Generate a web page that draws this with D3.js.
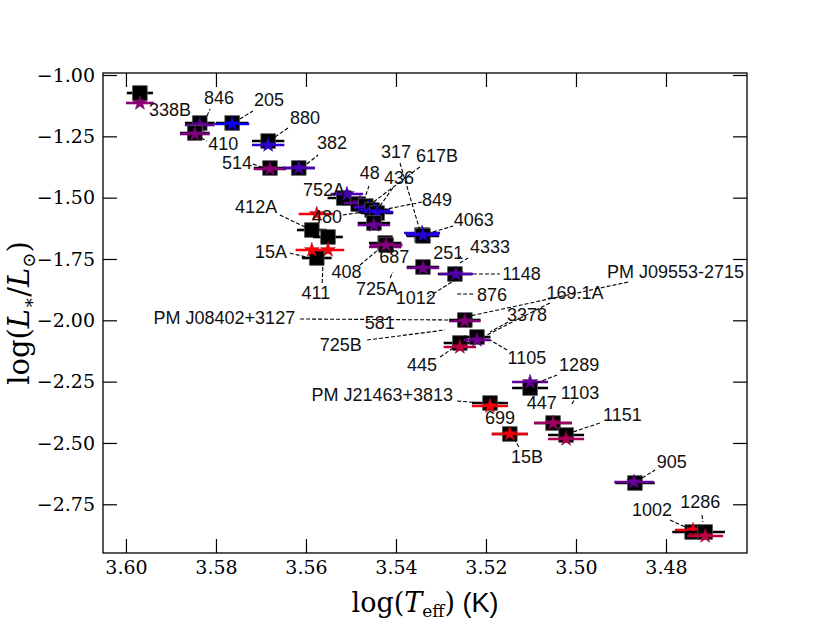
<!DOCTYPE html>
<html><head><meta charset="utf-8">
<script src="https://cdn.jsdelivr.net/npm/d3@7"></script>
<style>body{margin:0;background:#fff}</style>
</head><body>
<svg id="chart" width="830" height="623"></svg>
<script>
// ---------------- data ----------------
const starNames = ["338B","846","410","205","880","514","382","752A","48","617B","436","849","480","412A","411","15A","408","687","4063","317","251","1148","581","445","3378","1289","447","1151","PM J21463+3813","15B","905","1002","1286"];
// model A (black squares)
const sqTeff = [3.5969,3.5836,3.5847,3.5764,3.5684,3.5680,3.5616,3.5516,3.5484,3.5467,3.5453,3.5442,3.5449,3.5587,3.5551,3.5576,3.5424,3.5422,3.5342,3.5340,3.5340,3.5269,3.5247,3.5258,3.5220,3.5102,3.5051,3.5022,3.5191,3.5147,3.4869,3.4742,3.4713];
const sqLum  = [-1.0734,-1.1957,-1.2364,-1.1957,-1.2691,-1.3791,-1.3791,-1.5014,-1.5259,-1.5340,-1.5503,-1.5626,-1.6033,-1.6319,-1.6604,-1.7460,-1.6849,-1.6930,-1.6523,-1.6560,-1.7827,-1.8112,-1.9988,-2.0925,-2.0681,-2.2760,-2.4187,-2.4676,-2.3371,-2.4635,-2.6633,-2.8630,-2.8630];
const sqErr  = [0.0029,0.0033,0.0033,0.0036,0.0036,0.0036,0.0036,0.0036,0.0036,0.0033,0.0036,0.0036,0.0036,0.0033,0.0033,0.0033,0.0036,0.0036,0.0036,0.0036,0.0036,0.0038,0.0035,0.0036,0.0030,0.0040,0.0042,0.0040,0.0040,0.0040,0.0044,0.0044,0.0044];
// model B (coloured stars)
const stTeff = [3.5969,3.5836,3.5847,3.5764,3.5684,3.5680,3.5616,3.5509,3.5480,3.5462,3.5449,3.5442,3.5449,3.5576,3.5551,3.5587,3.5424,3.5422,3.5342,3.5340,3.5340,3.5267,3.5247,3.5258,3.5220,3.5102,3.5051,3.5022,3.5191,3.5147,3.4871,3.4740,3.4713];
const stLum  = [-1.1141,-1.2038,-1.2405,-1.1998,-1.2854,-1.3832,-1.3791,-1.4851,-1.5218,-1.5381,-1.5503,-1.5585,-1.6115,-1.5667,-1.7134,-1.7134,-1.7012,-1.6930,-1.6441,-1.6523,-1.7868,-1.8112,-2.0029,-2.1088,-2.0803,-2.2515,-2.4187,-2.4839,-2.3494,-2.4635,-2.6592,-2.8549,-2.8793];
const stErr  = [0.0031,0.0033,0.0033,0.0038,0.0036,0.0036,0.0036,0.0036,0.0036,0.0033,0.0036,0.0036,0.0036,0.0040,0.0036,0.0036,0.0036,0.0036,0.0040,0.0036,0.0036,0.0038,0.0035,0.0036,0.0030,0.0040,0.0042,0.0040,0.0040,0.0040,0.0044,0.0040,0.0040];
const starMetric = [0.45,0.60,0.50,0.95,0.82,0.46,0.70,0.72,0.60,0.75,0.86,0.85,0.58,0.04,0.05,0.03,0.50,0.48,0.88,0.86,0.55,0.68,0.48,0.25,0.55,0.60,0.38,0.33,0.05,0.05,0.60,0.08,0.25];

// annotations (text position and leader in data units)
const labelText  = ["338B","846","410","205","880","514","382","752A","48","436","617B","317","849","480","412A","15A","411","408","687","725A","251","4333","1148","876","1012","4063","PM J08402+3127","581","PM J09553-2715","169.1A","3378","445","725B","1105","1289","447","1103","1151","PM J21463+3813","699","15B","905","1002","1286"];
const labelTeff  = [3.5949,3.5793,3.5784,3.5682,3.5602,3.5753,3.5542,3.5560,3.5458,3.5393,3.5309,3.5400,3.5309,3.5553,3.5664,3.5642,3.5578,3.5510,3.5404,3.5442,3.5284,3.5191,3.5164,3.5220,3.5356,3.5227,3.5624,3.5436,3.4931,3.5002,3.5109,3.5342,3.5476,3.5109,3.4993,3.5076,3.4991,3.4940,3.5273,3.5169,3.5109,3.4787,3.4831,3.4724];
const labelLum   = [-1.1427,-1.0938,-1.2813,-1.1019,-1.1753,-1.3587,-1.2772,-1.4688,-1.3995,-1.4199,-1.3302,-1.3139,-1.5096,-1.5789,-1.5381,-1.7216,-1.8887,-1.8031,-1.7419,-1.8724,-1.7256,-1.7012,-1.8112,-1.8969,-1.9091,-1.5911,-1.9906,-2.0110,-1.8031,-1.8887,-1.9784,-2.1822,-2.1007,-2.1537,-2.1822,-2.3371,-2.2964,-2.3860,-2.3045,-2.3983,-2.5573,-2.5776,-2.7733,-2.7407];
const labelAlign = ["start","middle","middle","middle","middle","middle","middle","middle","middle","middle","middle","middle","middle","middle","end","end","middle","middle","middle","middle","middle","middle","start","start","middle","middle","end","middle","start","middle","middle","middle","end","middle","middle","middle","middle","start","end","middle","middle","middle","middle","middle"];
const leadTeff1 = [null,3.5820,3.5833,3.5747,3.5669,3.5718,3.5598,null,3.5467,3.5407,3.5347,3.5391,3.5342,3.5518,3.5658,3.5636,3.5564,3.5480,null,3.5413,3.5262,3.5258,3.5229,3.5264,3.5329,3.5318,3.5613,null,3.4884,3.5058,3.5151,3.5302,3.5464,3.5153,3.5087,null,3.5009,3.4947,3.5264,null,3.5127,3.4853,3.4791,3.4720];
const leadLum1  = [null,-1.1671,-1.2568,-1.1794,-1.2528,-1.3628,-1.3628,null,-1.4892,-1.4607,-1.3750,-1.3587,-1.5177,-1.5707,-1.5707,-1.7256,-1.8479,-1.7746,null,-1.8276,-1.7501,-1.7664,-1.8112,-1.8928,-1.9050,-1.6400,-1.9947,null,-1.8439,-1.9295,-2.0069,-2.1496,-2.0803,-2.1211,-2.2556,null,-2.3412,-2.4187,-2.3290,null,-2.5165,-2.6429,-2.8141,-2.7937];
const leadTeff2 = [null,3.5813,3.5820,3.5718,3.5640,3.5698,3.5573,null,3.5460,3.5442,3.5453,3.5347,3.5431,3.5458,3.5602,3.5591,3.5562,3.5440,null,3.5407,3.5253,3.5240,3.5169,3.5224,3.5269,3.5273,3.5262,null,3.5236,3.5198,3.5191,3.5273,3.5291,3.5191,3.5042,null,3.5004,3.5007,3.5209,null,3.5136,3.4824,3.4753,3.4718];
const leadLum2  = [null,-1.1386,-1.2691,-1.1468,-1.2161,-1.3750,-1.3261,null,-1.4525,-1.5503,-1.5218,-1.6319,-1.5503,-1.5544,-1.6196,-1.7460,-1.7623,-1.7134,null,-1.8031,-1.7338,-1.7460,-1.8112,-1.8928,-1.8357,-1.6156,-1.9988,null,-1.9825,-2.0599,-2.0477,-2.1129,-2.0395,-2.0803,-2.2230,null,-2.3249,-2.4554,-2.3371,null,-2.4880,-2.6103,-2.8467,-2.8222];

const xTicks = [3.60,3.58,3.56,3.54,3.52,3.50,3.48];
const yTicks = [-1.00,-1.25,-1.50,-1.75,-2.00,-2.25,-2.50,-2.75];

// ---------------- drawing ----------------
const svg = d3.select("#chart");
const L = 103, R = 747, T = 73, B = 553;
const x = d3.scaleLinear().domain([3.6051, 3.4620]).range([L, R]);
const y = d3.scaleLinear().domain([-0.9918, -2.9486]).range([T, B]);
const col = d3.scaleLinear().domain([0, 1]).range(["#ff0000", "#0000ff"]).interpolate(d3.interpolateRgb);

const serif = "'DejaVu Serif', serif";
const sans = "'Liberation Sans', Arial, sans-serif";

svg.append("defs").append("clipPath").attr("id","clip")
  .append("rect").attr("x",L).attr("y",T).attr("width",R-L).attr("height",B-T);

const plot = svg.append("g").attr("clip-path","url(#clip)");
const idx = d3.range(starNames.length);

const starSym = d3.symbol().type(d3.symbolStar).size(66);
const sqSym = d3.symbol().type(d3.symbolSquare).size(215);

idx.forEach(i => {
  const g = plot.append("g");
  g.append("line")
    .attr("x1", x(sqTeff[i] + sqErr[i])).attr("x2", x(sqTeff[i] - sqErr[i]))
    .attr("y1", y(sqLum[i])).attr("y2", y(sqLum[i]))
    .attr("stroke", "#000").attr("stroke-width", 2.6);
  g.append("path").attr("d", sqSym())
    .attr("transform", `translate(${x(sqTeff[i])},${y(sqLum[i])})`)
    .attr("fill", "#000").attr("stroke", "#555").attr("stroke-width", 0.8);
  const c = col(starMetric[i]);
  g.append("line")
    .attr("x1", x(stTeff[i] + stErr[i])).attr("x2", x(stTeff[i] - stErr[i]))
    .attr("y1", y(stLum[i])).attr("y2", y(stLum[i]))
    .attr("stroke", c).attr("stroke-width", 2.6);
  g.append("path").attr("d", starSym())
    .attr("transform", `translate(${x(stTeff[i])},${y(stLum[i])})`)
    .attr("fill", c).attr("stroke", d3.color(c).darker(0.6)).attr("stroke-width", 0.6);
});

// leaders and labels
const ann = svg.append("g");
d3.range(labelText.length).forEach(i => {
  if (leadTeff1[i] !== null) {
    ann.append("line")
      .attr("x1", x(leadTeff1[i])).attr("y1", y(leadLum1[i]))
      .attr("x2", x(leadTeff2[i])).attr("y2", y(leadLum2[i]))
      .attr("stroke", "#000").attr("stroke-width", 1.1)
      .attr("stroke-dasharray", "4,2");
  }
  ann.append("text")
    .attr("x", x(labelTeff[i])).attr("y", y(labelLum[i]))
    .attr("text-anchor", labelAlign[i])
    .attr("dominant-baseline", "central")
    .style("font-family", sans).style("font-size", "18px").attr("fill", "#111")
    .text(labelText[i]);
});

// axes
const fmt = d3.format(".2f");
function styleAxis(g) {
  g.select(".domain").remove();
  g.selectAll(".tick line").attr("stroke", "#000").attr("stroke-width", 1.2);
  g.selectAll("text").style("font-family", serif).style("font-size", "19px").attr("fill", "#000");
}
svg.append("g").attr("transform", `translate(0,${B})`)
  .call(d3.axisBottom(x).tickValues(xTicks).tickFormat(fmt).tickSizeInner(-14).tickSizeOuter(0).tickPadding(8))
  .call(styleAxis);
svg.append("g").attr("transform", `translate(0,${T})`)
  .call(d3.axisTop(x).tickValues(xTicks).tickFormat("").tickSizeInner(-14).tickSizeOuter(0))
  .call(styleAxis);
svg.append("g").attr("transform", `translate(${L},0)`)
  .call(d3.axisLeft(y).tickValues(yTicks).tickFormat(fmt).tickSizeInner(-14).tickSizeOuter(0).tickPadding(8))
  .call(styleAxis);
svg.append("g").attr("transform", `translate(${R},0)`)
  .call(d3.axisRight(y).tickValues(yTicks).tickFormat("").tickSizeInner(-14).tickSizeOuter(0))
  .call(styleAxis);

svg.append("rect").attr("x", L).attr("y", T).attr("width", R - L).attr("height", B - T)
  .attr("fill", "none").attr("stroke", "#000").attr("stroke-width", 1.3);

// axis labels
const xl = svg.append("text").attr("x", (L + R) / 2).attr("y", 612)
  .attr("text-anchor", "middle").style("font-family", serif).style("font-size", "27px").attr("fill", "#000");
xl.append("tspan").text("log(");
xl.append("tspan").style("font-style", "italic").text("T");
xl.append("tspan").attr("dy", 5).style("font-size", "17px").text("eff");
xl.append("tspan").attr("dy", -5).text(")");
xl.append("tspan").style("font-family", sans).text(" (K)");

const yl = svg.append("text").attr("transform", `translate(29,${(T + B) / 2}) rotate(-90)`)
  .attr("text-anchor", "middle").style("font-family", serif).style("font-size", "29px").attr("fill", "#000");
yl.append("tspan").text("log(");
yl.append("tspan").style("font-style", "italic").text("L");
yl.append("tspan").attr("dy", 6).style("font-size", "18px").text("∗");
yl.append("tspan").attr("dy", -6).text("/");
yl.append("tspan").style("font-style", "italic").text("L");
yl.append("tspan").attr("dy", 6).style("font-size", "18px").text("⊙");
yl.append("tspan").attr("dy", -6).text(")");
</script>
</body></html>
